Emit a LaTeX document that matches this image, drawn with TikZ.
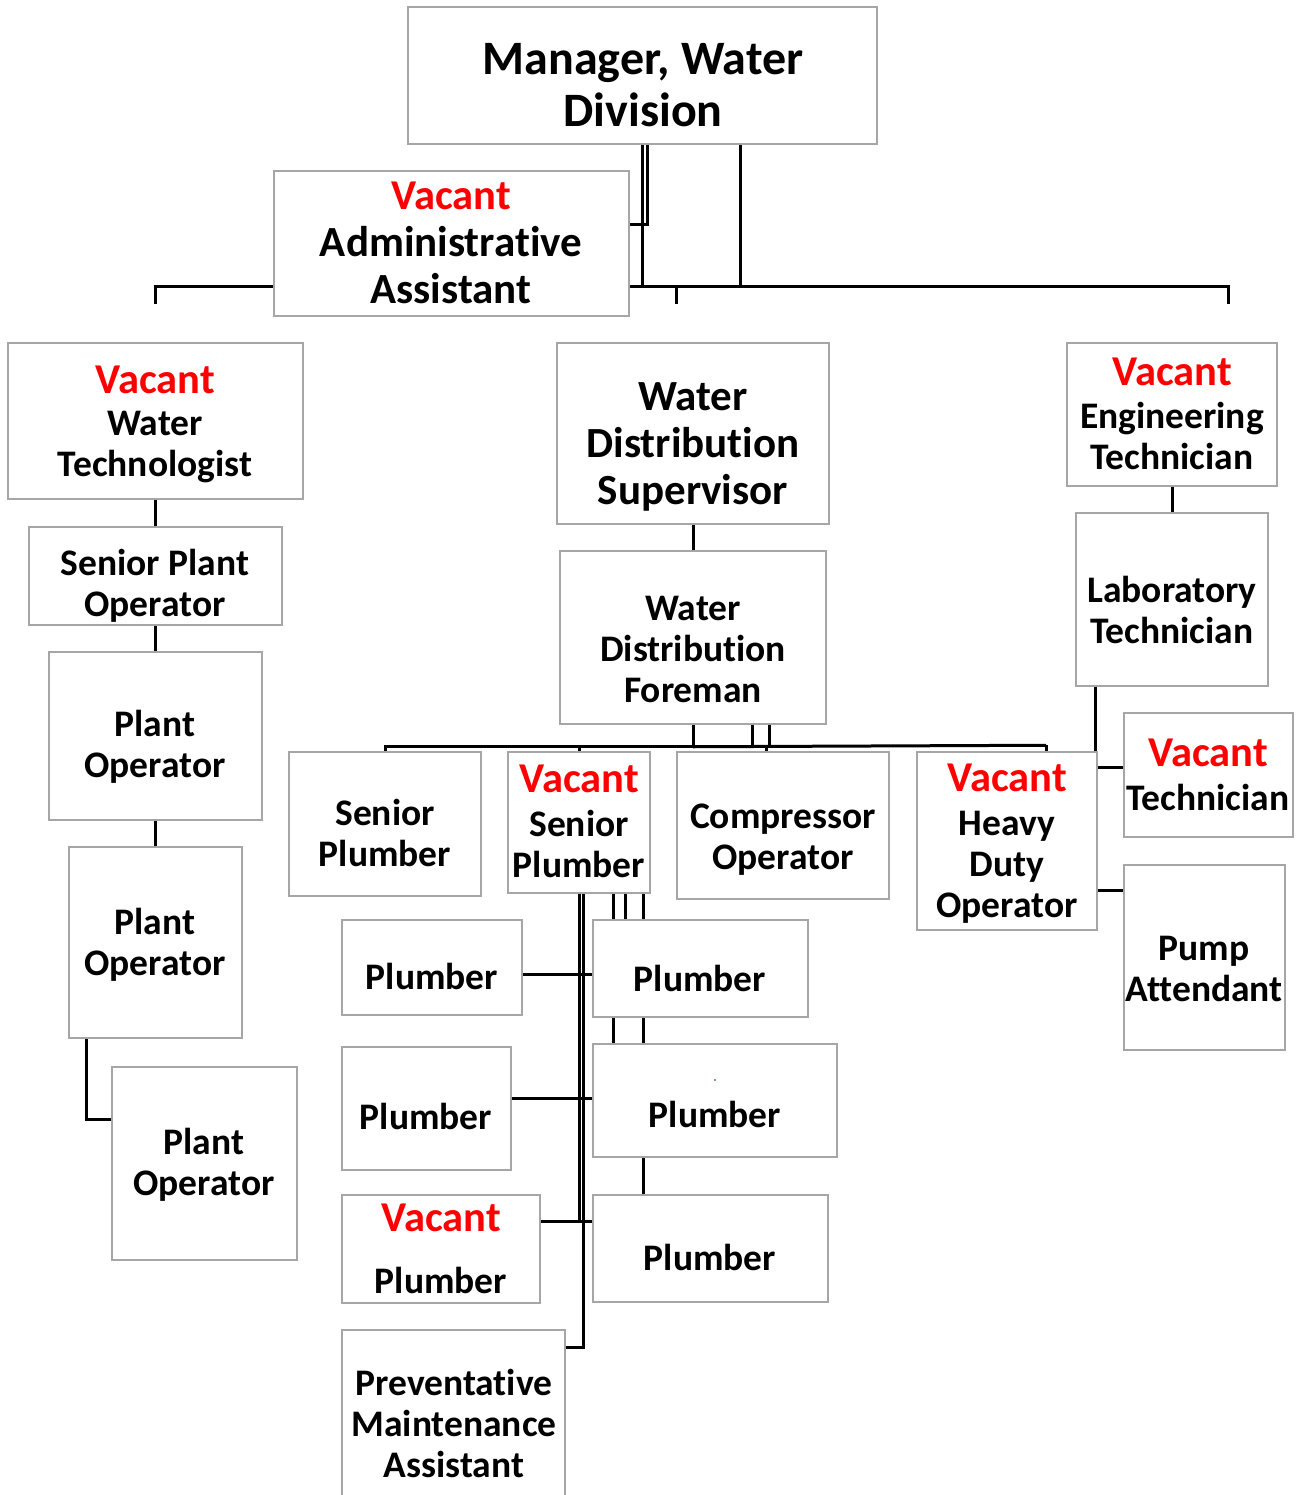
\documentclass[tikz,border=0pt]{standalone}
\usepackage{fontspec}
\setmainfont[Ligatures=NoCommon]{Carlito}
\usetikzlibrary{calc}
\definecolor{vacant}{HTML}{FF0000}
\definecolor{frame}{HTML}{A6A6A6}
\definecolor{dotblue}{HTML}{4472C4}
\newcommand{\fsmall}{\fontsize{37.5}{41}\selectfont\bfseries}
\newcommand{\fbig}{\fontsize{43}{47}\selectfont\bfseries}
\newcommand{\fhuge}{\fontsize{48}{52}\selectfont\bfseries}
\newcommand{\vac}{{\color{vacant}\fontsize{42.5}{41}\selectfont Vacant}}
\pgfdeclarelayer{bg}
\pgfsetlayers{bg,main}
% an org-chart box given by its corners (pixel grid, y downwards)
\newcommand{\orgbox}[5]{%
  \node[orgframe, minimum width={(#4)-(#2)}, minimum height={(#5)-(#3)}]
    (#1) at ({((#2)+(#4))/2},{((#3)+(#5))/2}) {};}
\tikzset{
  orgframe/.style={draw=frame, line width=1.5pt, fill=white, inner sep=0pt, rectangle},
  label/.style={align=center, inner sep=0pt, font=\fsmall},
  link/.style={draw=black, line width=3pt}
}
\begin{document}
\begin{tikzpicture}[x=1pt,y=-1pt]
\useasboundingbox (0,0) rectangle (1298,1495);
\clip (0,0) rectangle (1298,1495);

% ---- boxes ----
\orgbox{mgr}{408}{7}{877}{144}
\orgbox{admin}{274}{171}{629}{316}
\orgbox{wtech}{8}{343}{303}{499}
\orgbox{super}{557}{343}{829}{524}
\orgbox{eng}{1067}{343}{1277}{486}
\orgbox{spo}{29}{527}{282}{625}
\orgbox{po1}{49}{652}{262}{820}
\orgbox{po2}{69}{847}{242}{1038}
\orgbox{po3}{112}{1067}{297}{1260}
\orgbox{foreman}{560}{551}{826}{724}
\orgbox{lab}{1076}{513}{1268}{686}
\orgbox{vtech}{1124}{713}{1293}{837}
\orgbox{pump}{1124}{865}{1285}{1050}
\orgbox{sp}{289}{752}{481}{896}
\orgbox{vsp}{508}{752}{650}{893}
\orgbox{comp}{677}{752}{889}{899}
\orgbox{hd}{917}{752}{1097}{930}
\orgbox{p1}{342}{920}{522}{1015}
\orgbox{p2}{593}{920}{808}{1017}
\orgbox{p3}{342}{1047}{511}{1170}
\orgbox{p4}{593}{1044}{837}{1157}
\orgbox{vpl}{342}{1195}{540}{1303}
\orgbox{p6}{593}{1195}{828}{1302}
\orgbox{pma}{342}{1330}{565}{1505}

% ---- connectors ----
\begin{pgfonlayer}{bg}
  % division level
  \path (mgr.south) ++(0,142) coordinate (bus);
  \coordinate (busL) at (155,304);
  \coordinate (busR) at (1228,304);
  \coordinate (busM) at (676,304);
  \draw[link] (mgr.south) -- (bus);
  \draw[link] ([xshift=5pt]mgr.south) |- ([yshift=18.5pt]admin.east);
  \draw[link] ([xshift=97.5pt]mgr.south) -- ++(0,142);
  \draw[link] (busL) |- (bus) -| (busR);
  \draw[link] (busM) -- (busM |- bus);
  % treatment plant
  \draw[link] (wtech.south) -- (spo.north);
  \draw[link] (spo.south) -- (po1.north);
  \draw[link] (po1.south) -- (po2.north);
  \draw[link] ([xshift=-69.5pt]po2.south) |- ([yshift=44.5pt]po3.west);
  % distribution
  \draw[link] (super.south) -- (foreman.north);
  \path (foreman.south) ++(0,22) coordinate (fbus);
  \draw[link] (foreman.south) -- (fbus);
  \draw[link] ([xshift=59.5pt]foreman.south) -- ++(0,22);
  \draw[link] ([xshift=76pt]foreman.south) -- ++(0,22);
  \draw[link] (sp.north) |- (fbus);
  \draw[link] ([xshift=39pt]hd.north) -- ++(0,-6) coordinate (fbusR);
  \draw[link] (fbus) -- (fbusR);
  \draw[link] (vsp.north) -- ++(0,-6);
  \draw[link] ([xshift=-17pt]comp.north) -- ++(0,-6);
  % laboratory
  \draw[link] (eng.south) -- (lab.north);
  \draw[link] ([xshift=-77pt]lab.south) -- ++(0,66);
  \draw[link] ([yshift=8pt]vtech.west) -- ++(-27,0);
  \draw[link] ([yshift=67.5pt]pump.west) -- ++(-27,0);
  % plumbing crew
  \draw[link] (vsp.south) -- ++(0,328);
  \draw[link] ([xshift=4pt]vsp.south) -- ++(0,454) -- ++(-18,0);
  \draw[link] ([yshift=-6.5pt]p1.east) -- ++(71,0);
  \draw[link] ([yshift=10.5pt]p3.east) -- ++(82,0);
  \draw[link] ([yshift=28pt]vpl.east) -- ++(53,0);
  \draw[link] ([xshift=34pt]vsp.south) -- ++(0,27);
  \draw[link] ([xshift=46pt]vsp.south) -- ++(0,27);
  \draw[link] ([xshift=64pt]vsp.south) -- ++(0,27);
  \draw[link] ([xshift=-87.5pt]p2.south) -- ++(0,27);
  \draw[link] ([xshift=-57.5pt]p2.south) -- ++(0,27);
  \draw[link] ([xshift=-72pt]p4.south) -- ++(0,38);
\end{pgfonlayer}

% ---- labels ----
\node[label, font=\fhuge] (mgr-t) at (643,90) {\strut Manager, Water\\Division\strut};
\node[label, font=\fbig] (admin-t) at (451,247) {\strut\vac\\Administrative\\Assistant\strut};
\node[label] (wtech-t) at (155,427) {\strut\vac\\[1pt]Water\\Technologist\strut};
\node[label, font=\fbig] (super-t) at (693,448) {\strut Water\\Distribution\\Supervisor\strut};
\node[label] (eng-t) at (1172,419) {\strut\vac\\[2pt]Engineering\\Technician\strut};
\node[label] (spo-t) at (155,588) {\strut Senior Plant\\Operator\strut};
\node[label] (po1-t) at (155,749) {\strut Plant\\Operator\strut};
\node[label] (po2-t) at (155,947) {\strut Plant\\Operator\strut};
\node[label] (po3-t) at (204,1167) {\strut Plant\\Operator\strut};
\node[label] (foreman-t) at (693,653) {\strut Water\\Distribution\\Foreman\strut};
\node[label] (lab-t) at (1172,615) {\strut Laboratory\\Technician\strut};
\node[label] (vtech-t) at (1208,780) {\strut\vac\\[3pt]Technician\strut};
\node[label] (pump-t) at (1204,973) {\strut Pump\\Attendant\strut};
\node[label] (sp-t) at (385,838) {\strut Senior\\Plumber\strut};
\node[label] (vsp-t) at (579,827) {\strut\vac\\[3pt]Senior\\Plumber\strut};
\node[label] (comp-t) at (783,841) {\strut Compressor\\Operator\strut};
\node[label] (hd-t) at (1007,846) {\strut\vac\\[3pt]Heavy\\Duty\\Operator\strut};
\node[label] (p1-t) at (432,981) {\strut Plumber\strut};
\node[label] (p2-t) at (700,983) {\strut Plumber\strut};
\node[label] (p3-t) at (426,1121) {\strut Plumber\strut};
\node[label] (p4-t) at (715,1119) {\strut Plumber\strut};
\node[label] (vpl-t) at (441,1254) {\strut\vac\\[21pt]Plumber\strut};
\node[label] (p6-t) at (710,1262) {\strut Plumber\strut};
\node[label] (pma-t) at (454,1428) {\strut Preventative\\Maintenance\\Assistant\strut};

% stray mark inside the plumber box
\fill[dotblue] (715,1080) circle (1.2);
\end{tikzpicture}
\end{document}
